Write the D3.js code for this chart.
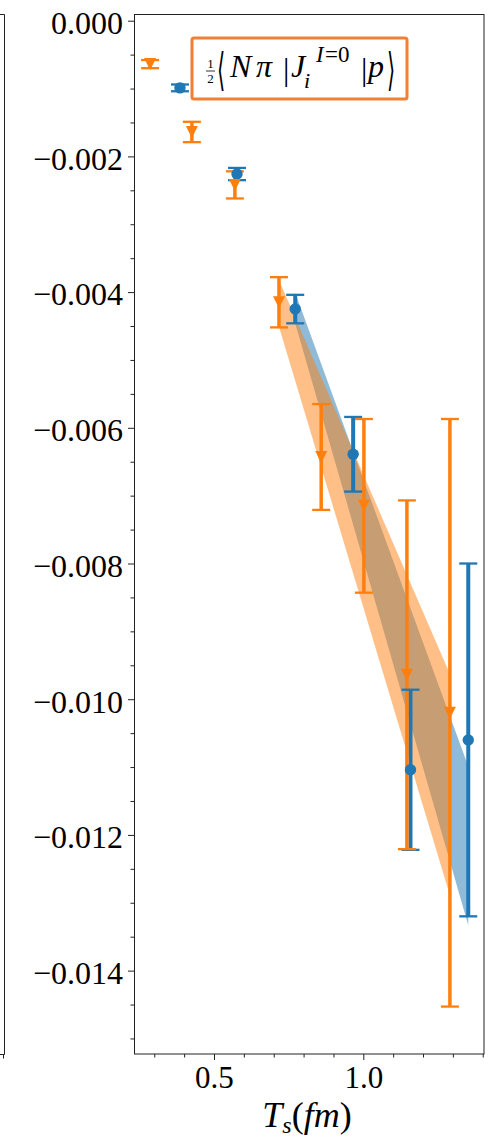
<!DOCTYPE html>
<html>
<head>
<meta charset="utf-8">
<script src="https://cdn.jsdelivr.net/npm/d3@7"></script>
<style>
    body { margin: 0; background: #fff; }
    svg text { font-family: "Liberation Serif", "DejaVu Serif", serif; fill: #000; }
</style>
</head>
<body>
<div id="chart-area"></div>
<script>

// values
const tsBlue = [0.386, 0.577, 0.772, 0.966, 1.158, 1.3515];
const valBlue = [-0.00099, -0.00226, -0.00425, -0.00639, -0.01104, -0.0106];
const errBlue = [0.00005, 0.00009, 0.00021, 0.00055, 0.00118, 0.0026];

const tsOrange = [0.286, 0.426, 0.570, 0.7176, 0.859, 1.002, 1.146, 1.29];
const valOrange = [-0.00064, -0.00164, -0.00242, -0.00415, -0.00643, -0.00715, -0.00964, -0.0102];
const errOrange = [0.00006, 0.00015, 0.0002, 0.00037, 0.00078, 0.00128, 0.00257, 0.00433];

// fit bands (start / end of each band)
const bandTsBlue = [0.772, 1.3515];
const bandHiBlue = [-0.00401, -0.01099];
const bandLoBlue = [-0.00446, -0.01333];
const bandTsOrange = [0.7176, 1.29];
const bandHiOrange = [-0.00382, -0.00963];
const bandLoOrange = [-0.00451, -0.01289];

const yTicks = [0, -0.002, -0.004, -0.006, -0.008, -0.010, -0.012, -0.014];
const xTicks = [0.5, 1.0];
const xMinor = [0.3, 0.4, 0.6, 0.7, 0.8, 0.9, 1.1, 1.2, 1.3, 1.4];

const blue = "#1f77b4", orange = "#ff7f0e";
const serif = "Liberation Serif, DejaVu Serif, serif";

const svg = d3.select('#chart-area')
    .append('svg')
    .attr('width', 498)
    .attr('height', 1140);

const x = d3.scaleLinear().domain([0.2321, 1.4042]).range([134, 484]);
const y = d3.scaleLinear().domain([0.0000987, -0.015229]).range([14, 1054]);

// leftover spine of the neighbouring panel
svg.append("path")
    .attr("d", "M0,14.5H4.5V1054.5H0M3.5,1054.5V1058.5")
    .attr("fill", "none")
    .attr("stroke", "#222")
    .attr("stroke-width", 1);

// axes
const fmt = d => d === 0 ? "0.000" : "\u2212" + Math.abs(d).toFixed(3);

const yAxis = svg.append("g")
    .attr("transform", "translate(134,0)")
    .call(d3.axisLeft(y).tickValues(yTicks).tickFormat(fmt).tickSize(6).tickPadding(5));
yAxis.attr("font-family", serif);
yAxis.selectAll("text").attr("font-size", 32).attr("font-family", serif).attr("dy", "0.4em");

const yMinor = d3.range(0, -0.0152, -0.0005).filter(v => !yTicks.some(t => Math.abs(t - v) < 1e-9));
svg.append("g")
    .attr("transform", "translate(134,0)")
    .call(d3.axisLeft(y).tickValues(yMinor).tickFormat("").tickSize(3.5));

const xAxis = svg.append("g")
    .attr("transform", "translate(0,1054)")
    .call(d3.axisBottom(x).tickValues(xTicks).tickFormat(d3.format(".1f")).tickSize(6).tickPadding(6));
xAxis.attr("font-family", serif);
xAxis.selectAll("text").attr("font-size", 31).attr("font-family", serif);

svg.append("g")
    .attr("transform", "translate(0,1054)")
    .call(d3.axisBottom(x).tickValues(xMinor).tickFormat("").tickSize(3.5));

svg.selectAll(".domain").remove();
svg.selectAll(".tick line").attr("stroke", "#222");

// bands
const area = d3.area()
    .x(d => x(d.t))
    .y0(d => y(d.lo))
    .y1(d => y(d.hi));

const bands = [
    { color: blue, data: bandTsBlue.map((t, i) => ({ t, hi: bandHiBlue[i], lo: bandLoBlue[i] })) },
    { color: orange, data: bandTsOrange.map((t, i) => ({ t, hi: bandHiOrange[i], lo: bandLoOrange[i] })) }
];

svg.selectAll("path.band")
    .data(bands)
    .join("path")
    .attr("class", "band")
    .attr("d", d => area(d.data))
    .attr("fill", d => d.color)
    .attr("fill-opacity", 0.5);

// error bars + markers (bars of both series first, markers on top)
const series = [
    { color: blue, width: 4, marker: "circle", pts: tsBlue.map((t, i) => ({ t, v: valBlue[i], e: errBlue[i] })) },
    { color: orange, width: 3.5, marker: "triangle", pts: tsOrange.map((t, i) => ({ t, v: valOrange[i], e: errOrange[i] })) }
];

series.forEach(s => {
    svg.append("g").selectAll("line")
        .data(s.pts)
        .join("line")
        .attr("x1", d => x(d.t)).attr("x2", d => x(d.t))
        .attr("y1", d => y(d.v + d.e)).attr("y2", d => y(d.v - d.e))
        .attr("stroke", s.color)
        .attr("stroke-width", s.width);
});

series.forEach(s => {
    const caps = s.pts.flatMap(d => [d.v + d.e, d.v - d.e].map(c => ({ t: d.t, c })));
    svg.append("g").selectAll("line")
        .data(caps)
        .join("line")
        .attr("x1", d => x(d.t) - 9).attr("x2", d => x(d.t) + 9)
        .attr("y1", d => y(d.c)).attr("y2", d => y(d.c))
        .attr("stroke", s.color)
        .attr("stroke-width", 2.3);
});

series.forEach(s => {
    const g = svg.append("g");
    if (s.marker === "circle") {
        g.selectAll("circle")
            .data(s.pts)
            .join("circle")
            .attr("cx", d => x(d.t))
            .attr("cy", d => y(d.v))
            .attr("r", 5.7)
            .attr("fill", s.color);
    } else {
        g.selectAll("path")
            .data(s.pts)
            .join("path")
            .attr("transform", d => `translate(${x(d.t)},${y(d.v)})`)
            .attr("d", "M-6,-6L6,-6L0,6Z")
            .attr("fill", s.color);
    }
});

// frame
svg.append("rect")
    .attr("x", 134.5).attr("y", 14.5)
    .attr("width", 349.5).attr("height", 1039.5)
    .attr("fill", "none")
    .attr("stroke", "#222")
    .attr("stroke-width", 1);

// legend
const lg = svg.append("g");
lg.append("rect")
    .attr("x", 192).attr("y", 38)
    .attr("width", 215).attr("height", 61)
    .attr("rx", 2)
    .attr("fill", "#fff")
    .attr("stroke", "#f08034")
    .attr("stroke-width", 3);

lg.append("text").attr("x", 210.5).attr("y", 68).attr("font-size", 13).attr("text-anchor", "middle").text("1");
lg.append("line").attr("x1", 206).attr("x2", 215).attr("y1", 71).attr("y2", 71).attr("stroke", "#000").attr("stroke-width", 0.8);
lg.append("text").attr("x", 210.5).attr("y", 83).attr("font-size", 13).attr("text-anchor", "middle").text("2");

const it = (sel, xx, yy, size, str, italic) => sel.append("text")
    .attr("x", xx).attr("y", yy)
    .attr("font-size", size)
    .attr("font-style", italic ? "italic" : "normal")
    .text(str);

// tall thin angle brackets
const bracket = (xx, str) => lg.append("g")
    .attr("transform", `translate(${xx},71) scale(0.75,1.6)`)
    .append("text")
    .attr("y", 9)
    .attr("font-size", 28)
    .attr("font-family", "DejaVu Sans, sans-serif")
    .attr("font-weight", 200)
    .text(str);

bracket(217, "\u27E8");
it(lg, 230, 77, 32, "N", true);
it(lg, 256, 77, 32, "\u03C0", true);
it(lg, 283, 80, 32, "|", false);
it(lg, 291, 77, 32, "J", true);
it(lg, 304, 88, 22, "i", true);
it(lg, 316, 62, 23, "I", true);
it(lg, 325, 62, 23, "=0", false);
it(lg, 361, 80, 32, "|", false);
it(lg, 368, 77, 32, "p", true);
bracket(387, "\u27E9");

// x label
const xl = svg.append("text")
    .attr("x", 307).attr("y", 1127)
    .attr("text-anchor", "middle")
    .attr("font-size", 36);
xl.append("tspan").attr("font-style", "italic").text("T");
xl.append("tspan").attr("font-style", "italic").attr("font-size", 24).attr("dy", 6).text("s");
xl.append("tspan").attr("dy", -6).text("(");
xl.append("tspan").attr("font-style", "italic").text("fm");
xl.append("tspan").text(")");

</script>
</body>
</html>
